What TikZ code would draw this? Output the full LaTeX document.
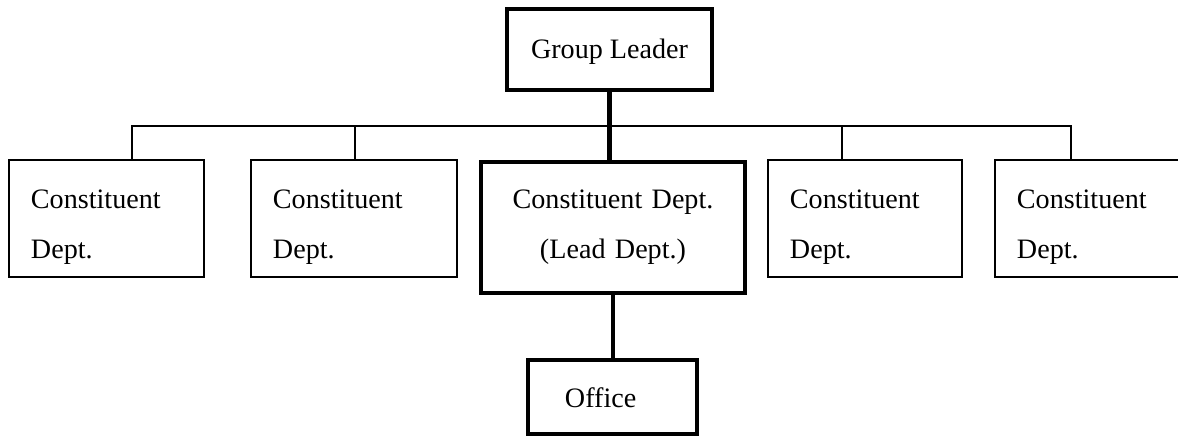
\documentclass[tikz,border=0pt]{standalone}
\usepackage{fontspec}
\setmainfont{Liberation Serif}
\tikzset{
        box/.style={draw, line width=1.3pt, inner ysep=0pt, font=\fontsize{20}{35.6}\selectfont},
        dept/.style={box, align=left, inner xsep=0.55cm, text height=1.2cm, text depth=1.725cm},
        heavy/.style={box, line width=3pt, align=center},
        link/.style={line width=1.3pt},
        heavylink/.style={line width=3pt}
}
\begin{document}
\begin{tikzpicture}[x=0.025cm, y=-0.025cm]
        \clip (0,0) rectangle (1178,437);
        \node[heavy, minimum width=5.125cm, text height=1.225cm, text depth=0.8cm] (v0) at (609.5, 49.5) {Group Leader};
        \node[dept, text width=3.775cm] (v1) at (106.5, 218.5) {Constituent\\Dept.};
        \node[dept, text width=4.05cm] (v2) at (354, 218.5) {Constituent\\Dept.};
        \node[heavy, inner xsep=0.25cm, text width=6.1cm, text height=1.15cm, text depth=2.125cm] (v3) at (613, 227.5) {Constituent Dept.\\(Lead Dept.)};
        \node[dept, text width=3.75cm] (v4) at (865, 218.5) {Constituent\\Dept.};
        \node[dept, text width=3.9cm] (v5) at (1095, 218.5) {Constituent\\Dept.};
        \node[heavy, align=left, inner xsep=0.925cm, text width=2.375cm, text height=1.175cm, text depth=0.675cm] (v6) at (612.5, 397) {Office};
        \coordinate (c1) at (132, 126);
        \coordinate (c2) at (355, 126);
        \coordinate (c4) at (842, 126);
        \coordinate (c5) at (1071, 126);
        \draw[link] (c1 |- v1.north) -- (c1) -- (c5) -- (c5 |- v5.north);
        \draw[link] (c2) -- (c2 |- v2.north);
        \draw[link] (c4) -- (c4 |- v4.north);
        \draw[heavylink] (v0.south) -- (v0.south |- v3.north);
        \draw[heavylink] (v3.south) -- (v3.south |- v6.north);
\end{tikzpicture}
\end{document}
